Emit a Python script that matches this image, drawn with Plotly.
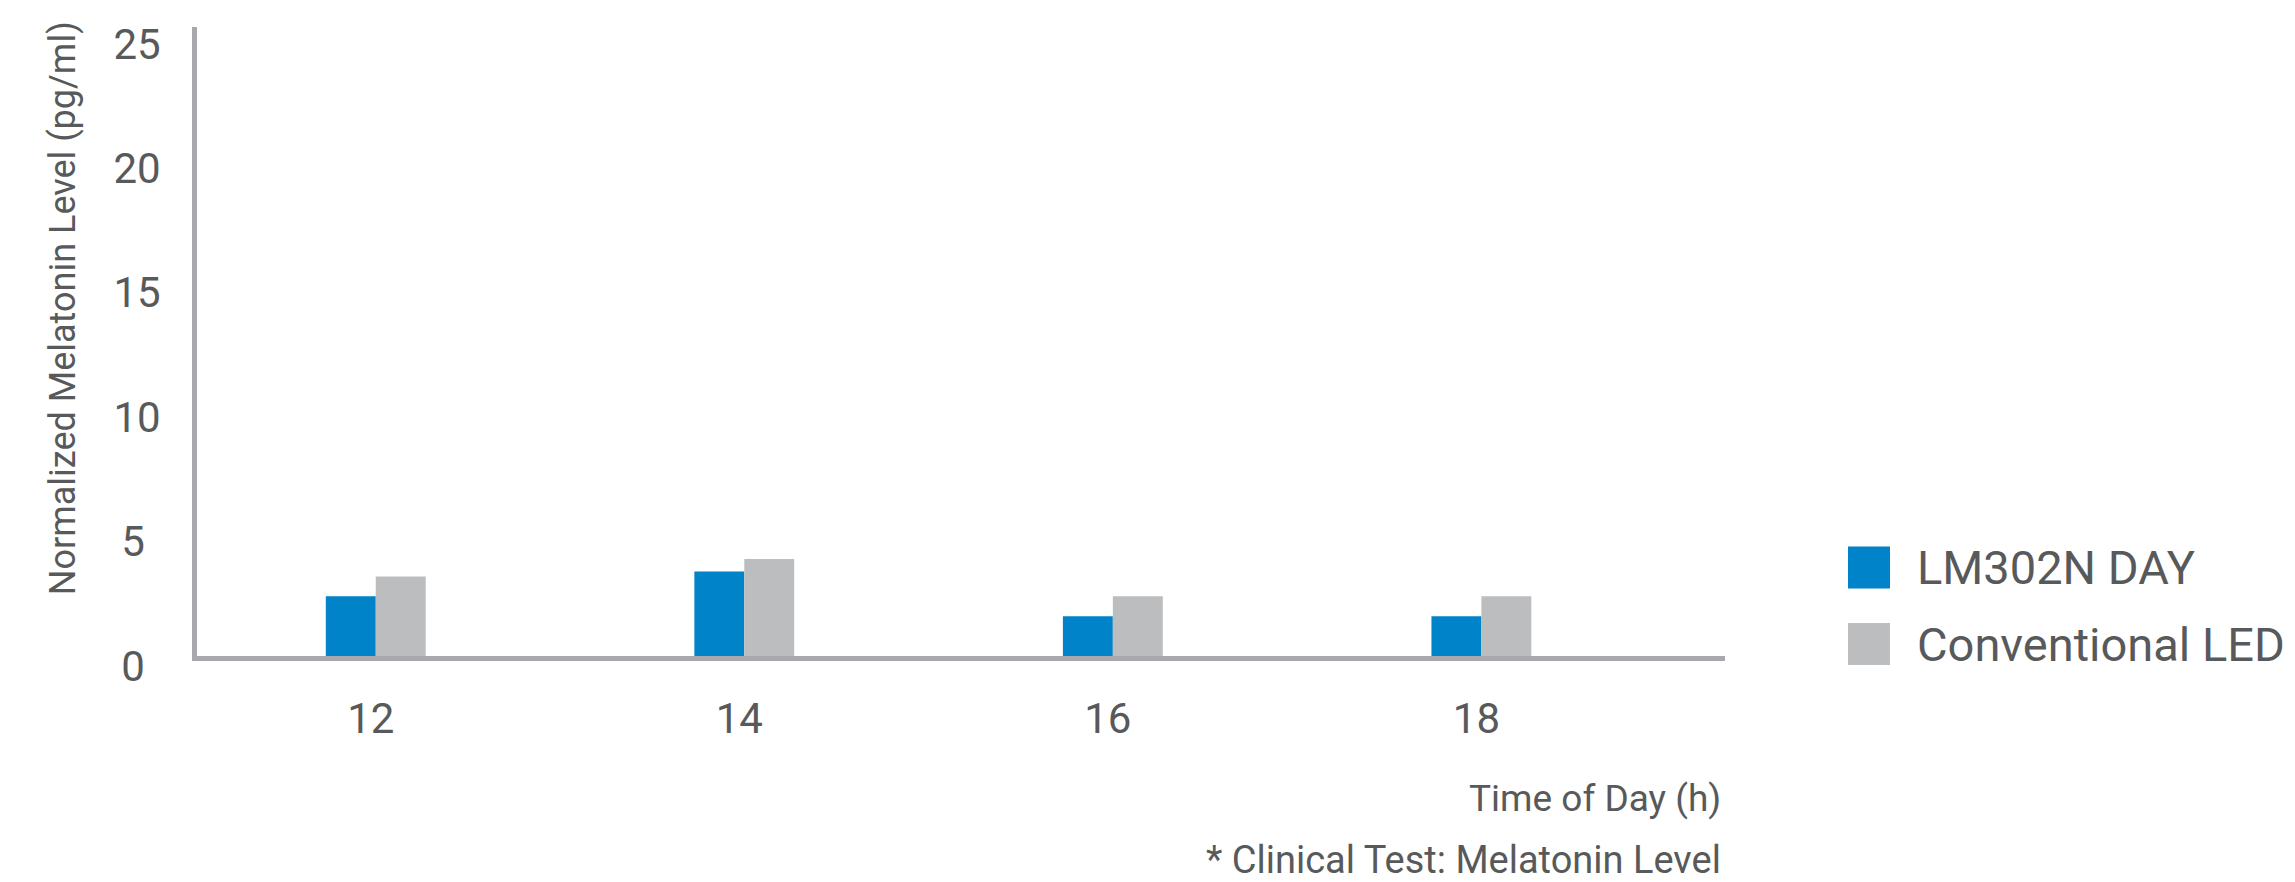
import plotly.graph_objects as go

# ---- data ----
categories = ["12", "14", "16", "18"]
series_names = ["LM302N DAY", "Conventional LED"]
lm302n_day = [2.4, 3.4, 1.6, 1.6]
conventional_led = [3.2, 3.9, 2.4, 2.4]
y_tick_values = [0, 5, 10, 15, 20, 25]
y_tick_labels = ["0", "5", "10", "15", "20", "25"]
y_title = "Normalized Melatonin Level (pg/ml)"
x_title = "Time of Day (h)"
footnote = "* Clinical Test: Melatonin Level"

# ---- style ----
BLUE = "#0083c8"
GRAY = "#bcbdbf"
AXIS = "#a8a9ad"
TEXT = "#58595b"
FONT = "Roboto"

OFF = 8  # default page body margin
W, H = 2295 - OFF, 882 - OFF
PLOT_LEFT, PLOT_RIGHT, PLOT_TOP, PLOT_BOTTOM = 197, 1725, 23, 656
L = PLOT_LEFT - OFF
T = PLOT_TOP - OFF
R = W - (PLOT_RIGHT - OFF)
B = H - (PLOT_BOTTOM - OFF)
plot_h = PLOT_BOTTOM - PLOT_TOP

# centre one-digit tick labels on the two-digit ones (trailing narrow spaces)
pad = "\u2008\u200a"
y_tick_text = [t + pad if len(t) == 1 else t for t in y_tick_labels]

fig = go.Figure()
for name, vals, col in [(series_names[0], lm302n_day, BLUE),
                        (series_names[1], conventional_led, GRAY)]:
    fig.add_trace(go.Bar(x=categories, y=vals, name=name,
                         marker=dict(color=col, line=dict(width=0)),
                         showlegend=False))

fig.update_layout(
    width=W, height=H,
    margin=dict(l=L, r=R, t=T, b=B, pad=0),
    paper_bgcolor="white", plot_bgcolor="white",
    barmode="group", bargap=0.729, bargroupgap=0,
    font=dict(family=FONT, color=TEXT),
    xaxis=dict(type="category", range=[-0.485, 3.661],
               showline=True, linewidth=5, linecolor=AXIS,
               showgrid=False, zeroline=False, ticks="",
               tickfont=dict(size=42, color=TEXT, family=FONT),
               ticklabelstandoff=22, ticklabelshift=-5),
    yaxis=dict(range=[0, 25.28], tickvals=y_tick_values, ticktext=y_tick_text,
               showline=True, linewidth=5, linecolor=AXIS,
               showgrid=False, zeroline=False, ticks="",
               tickfont=dict(size=42, color=TEXT, family=FONT),
               ticklabelstandoff=23, ticklabelshift=10),
)

def py(y_px):
    return (PLOT_BOTTOM - y_px) / plot_h

# y-axis title
fig.add_annotation(text=y_title, xref="paper", yref="paper", x=0, y=py(306),
                   xshift=63 - PLOT_LEFT, xanchor="center", yanchor="middle", textangle=-90,
                   showarrow=False, font=dict(size=36, color=TEXT, family=FONT))
# x-axis title and footnote
fig.add_annotation(text=x_title, xref="paper", yref="paper", x=1, y=py(799),
                   xshift=-2, xanchor="right", yanchor="middle", showarrow=False,
                   font=dict(size=37, color=TEXT, family=FONT))
fig.add_annotation(text=footnote, xref="paper", yref="paper", x=1, y=py(861),
                   xshift=-2, xanchor="right", yanchor="middle", showarrow=False,
                   font=dict(size=38, color=TEXT, family=FONT))

# custom legend (large square swatches)
legend_rows = [(series_names[0], BLUE, 567), (series_names[1], GRAY, 644)]
for name, col, yc in legend_rows:
    yp = py(yc)
    fig.add_shape(type="rect", xref="paper", yref="paper",
                  xsizemode="pixel", ysizemode="pixel",
                  xanchor=1, yanchor=yp,
                  x0=1848 - PLOT_RIGHT, x1=1890 - PLOT_RIGHT, y0=-21, y1=21,
                  fillcolor=col, line=dict(width=0))
    fig.add_annotation(text=name, xref="paper", yref="paper", x=1, y=yp,
                       xshift=1915 - PLOT_RIGHT, xanchor="left", yanchor="middle",
                       showarrow=False, font=dict(size=47, color=TEXT, family=FONT))

fig.write_html("out.html")
